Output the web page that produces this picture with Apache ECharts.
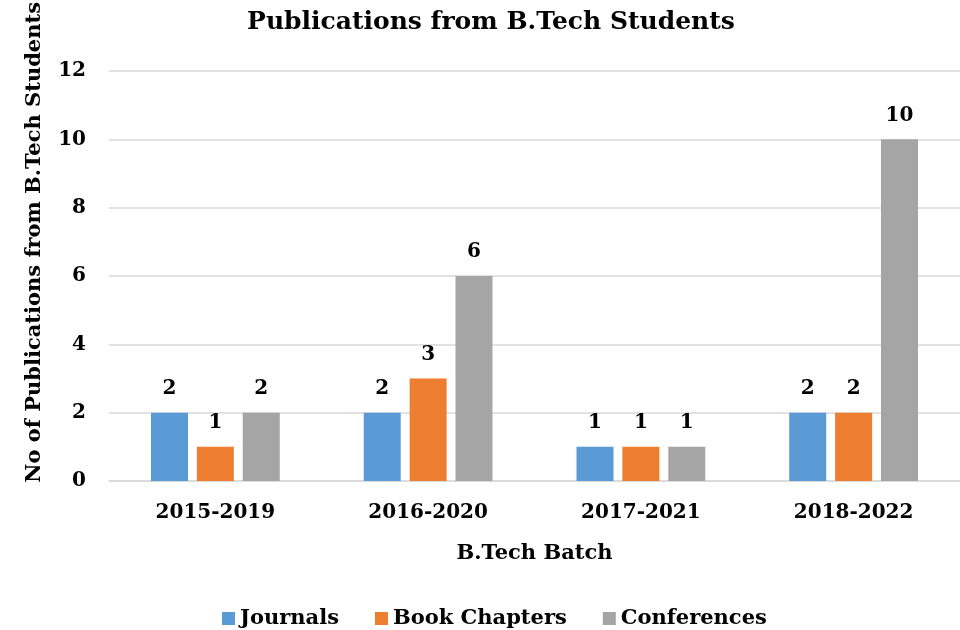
<!DOCTYPE html>
<html><head><meta charset="utf-8">
<script src="https://cdn.jsdelivr.net/npm/echarts@6/dist/echarts.min.js"></script>
<style>html,body{margin:0;padding:0;background:#fff}#c{width:960px;height:630px}</style>
</head><body><div id="c"></div>
<script>
const categories = ['2015-2019', '2016-2020', '2017-2021', '2018-2022'];
const journals = [2, 2, 1, 2];
const bookChapters = [1, 3, 1, 2];
const conferences = [2, 6, 1, 10];
const seriesNames = ['Journals', 'Book Chapters', 'Conferences'];
const colors = ['#5B9BD5', '#ED7D31', '#A5A5A5'];
const FONT = '"DejaVu Serif", serif';

const chart = echarts.init(document.getElementById('c'), null, {renderer: 'canvas'});
const lbl = {show: true, position: 'top', distance: 14, fontFamily: FONT, fontWeight: 'bold', fontSize: 20, color: '#000'};
function mk(name, data, color) {
  return {name, type: 'bar', data, barWidth: 37, barGap: '24%', itemStyle: {color}, label: lbl};
}
chart.setOption({
  animation: false,
  color: colors,
  title: {text: 'Publications from B.Tech Students', left: 486, top: 5, textAlign: 'center',
    textStyle: {fontFamily: FONT, fontWeight: 'bold', fontSize: 25, color: '#000'}},
  grid: {left: 109, right: 0, top: 71, bottom: 149},
  legend: {top: 603, left: 217, itemWidth: 13, itemHeight: 13, itemGap: 36,
    icon: 'rect',
    textStyle: {fontFamily: FONT, fontWeight: 'bold', fontSize: 21, color: '#000'},
    data: seriesNames},
  xAxis: {type: 'category', data: categories,
    name: 'B.Tech Batch', nameLocation: 'middle', nameGap: 62,
    nameTextStyle: {fontFamily: FONT, fontWeight: 'bold', fontSize: 21, color: '#000'},
    axisLine: {lineStyle: {color: '#D9D9D9', width: 1.5}}, axisTick: {show: false},
    axisLabel: {fontFamily: FONT, fontWeight: 'bold', fontSize: 20, color: '#000', margin: 22}},
  yAxis: {type: 'value', min: 0, max: 12, interval: 2,
    axisLine: {show: false}, axisTick: {show: false},
    splitLine: {lineStyle: {color: '#D9D9D9', width: 1.5}},
    axisLabel: {fontFamily: FONT, fontWeight: 'bold', fontSize: 20, color: '#000', margin: 23}},
  graphic: [{type: 'text', left: 24, top: 2, rotation: Math.PI / 2,
    style: {text: 'No of Publications from B.Tech Students', fontFamily: FONT, fontWeight: 'bold', fontSize: 21, fill: '#000'}}],
  series: [mk(seriesNames[0], journals, colors[0]), mk(seriesNames[1], bookChapters, colors[1]), mk(seriesNames[2], conferences, colors[2])]
});
</script></body></html>
